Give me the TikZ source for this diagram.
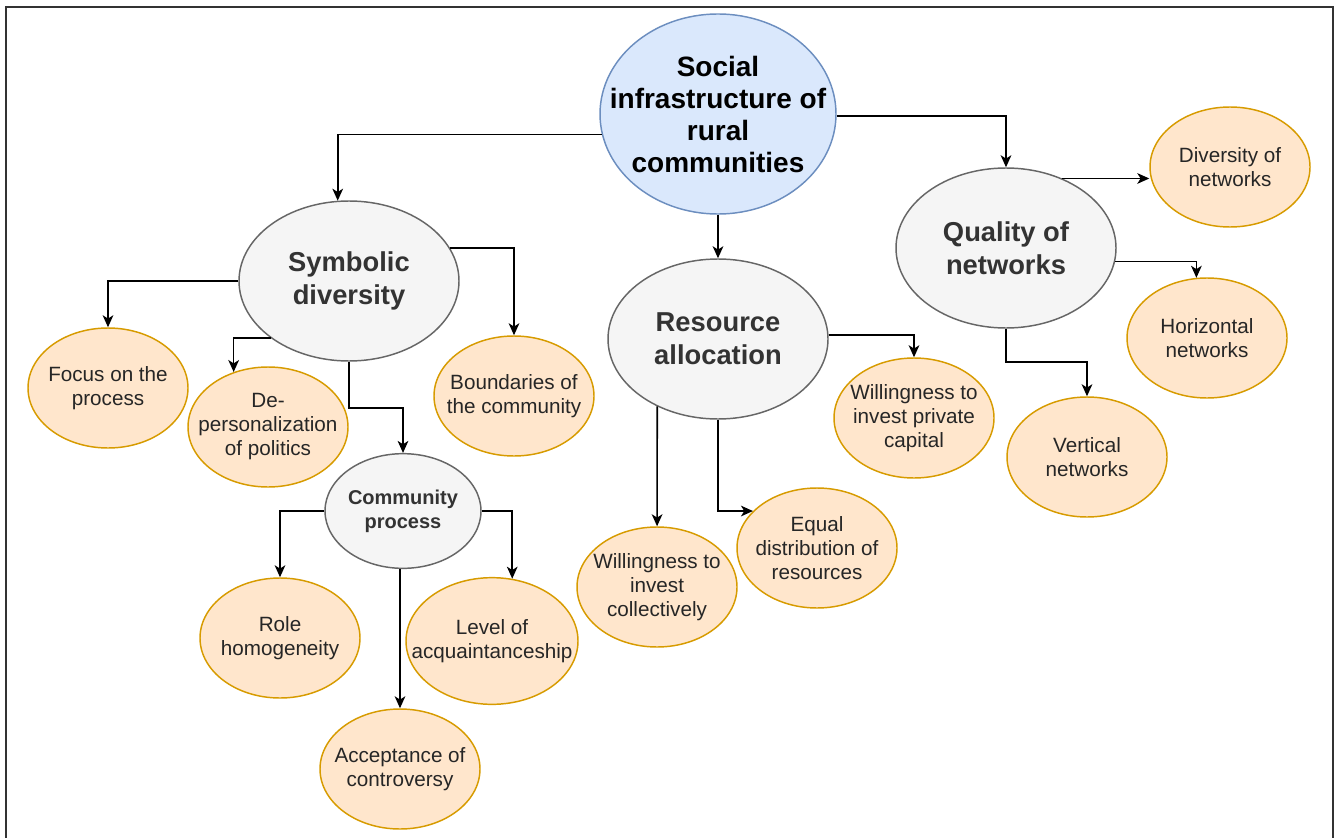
\documentclass[tikz,border=0pt]{standalone}
\usepackage{fontspec}
\setmainfont{Liberation Sans}
\usepackage{xcolor}
\usetikzlibrary{arrows.meta,positioning,shapes.geometric}

\definecolor{rootfill}{HTML}{DAE8FC}
\definecolor{rootline}{HTML}{6C8EBF}
\definecolor{topicfill}{HTML}{F5F5F5}
\definecolor{topicline}{HTML}{666666}
\definecolor{topictext}{HTML}{333333}
\definecolor{leaffill}{HTML}{FFE6CC}
\definecolor{leafline}{HTML}{D79B00}

\begin{document}
\begin{tikzpicture}[x=0.75pt, y=-0.75pt,
    % negative inner sep: the ellipse keeps its minimum size whatever the text
    every node/.style={ellipse, inner sep=-40pt, align=center, line width=1.1pt},
    rootnode/.style={draw=rootline, fill=rootfill, minimum width=177pt, minimum height=150pt,
      font=\fontsize{21}{24}\selectfont\bfseries},
    topic/.style={draw=topicline, fill=topicfill, text=topictext, minimum width=165pt,
      minimum height=120pt, font=\fontsize{20.5}{25}\selectfont\bfseries},
    subtopic/.style={topic, minimum width=117pt, minimum height=86pt,
      font=\fontsize{15}{18}\selectfont\bfseries},
    leaf/.style={draw=leafline, fill=leaffill, text=black!85, minimum width=120pt,
      minimum height=90pt, font=\fontsize{15.5}{18}\selectfont},
    link/.style={-{Stealth[length=9pt,width=8pt,inset=2.5pt]}, line width=1.2pt}]
        \useasboundingbox (0,0) rectangle (1341,838);
        \draw[line width=1.5pt, black!80] (6,7) rectangle (1333,860);

        \node[rootnode] (root) at (718,114) {Social\\infrastructure of\\rural\\communities};

        % main branches
        \node[topic] (sym)  at (349,281)  {Symbolic\\diversity};
        \node[topic] (res)  at (718,339)  {Resource\\allocation};
        \node[topic] (qual) at (1006,248) {Quality of\\networks};
        \node[subtopic] (comm) at (403,511) {Community\\process};

        % leaves
        \node[leaf] (focus)   at (108,388)  {Focus on the\\process};
        \node[leaf] (deper)   at (268,427)  {De-\\personalization\\of politics};
        \node[leaf] (bound)   at (514,396)  {Boundaries of\\the community};
        \node[leaf] (role)    at (280,638)  {Role\\homogeneity};
        \node[leaf, minimum width=129pt, minimum height=95pt] (level) at (492,641) {Level of\\acquaintanceship};
        \node[leaf] (accept)  at (400,769)  {Acceptance of\\controversy};
        \node[leaf] (willcol) at (657,587)  {Willingness to\\invest\\collectively};
        \node[leaf] (equal)   at (817,548)  {Equal\\distribution of\\resources};
        \node[leaf] (priv)    at (914,418)  {Willingness to\\invest private\\capital};
        \node[leaf] (div)     at (1230,167) {Diversity of\\networks};
        \node[leaf] (horiz)   at (1207,338) {Horizontal\\networks};
        \node[leaf] (vert)    at (1087,457) {Vertical\\networks};

        % connectors
        \draw[link] (root.190) -| (sym.98);
        \draw[link] (root) -- (res);
        \draw[link] (root.359) -| (qual);

        \draw[link] (sym) -| (focus);
        \draw[link] (sym.216) -| (deper.122);
        \draw[link] (sym.18) -| (bound);
        \draw[link] (sym.south) -- ++(0,46) -| (comm.north);

        \draw[link] (comm) -| (role);
        \draw[link] (comm) -| (level.72);
        \draw[link] (accept.north |- comm.south) -- (accept);

        \draw[link] (res.228) -- (willcol);
        \draw[link] (res.south) |- (equal.150);
        \draw[link] (res.2) -| (priv);

        \draw[link] (qual.51) -- (qual.51 -| div.west);
        \draw[link] (qual.353) -| (horiz.100);
        \draw[link] (qual.south) -- ++(0,33) -| (vert.north);
\end{tikzpicture}
\end{document}
